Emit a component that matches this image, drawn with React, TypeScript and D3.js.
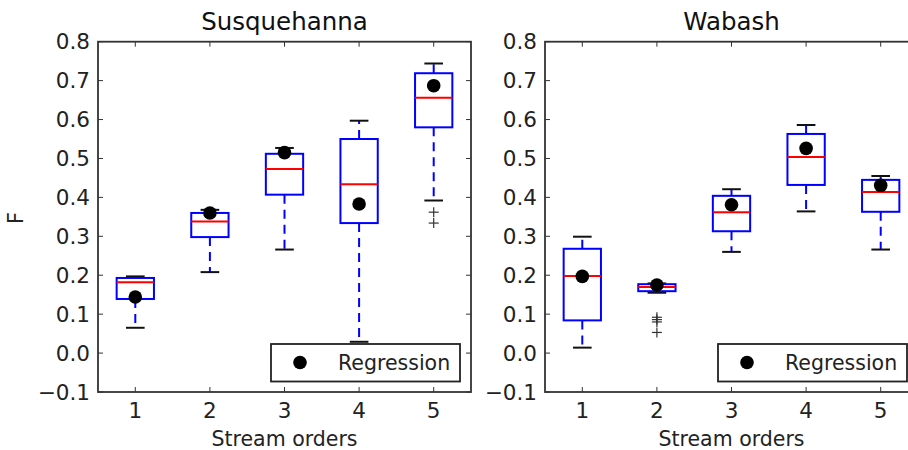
import * as d3 from "d3";

const orders = [1, 2, 3, 4, 5];
const yTicks = [-0.1, 0, 0.1, 0.2, 0.3, 0.4, 0.5, 0.6, 0.7, 0.8];

// Susquehanna
const susLow = [0.065, 0.208, 0.266, 0.029, 0.392];
const susQ1 = [0.139, 0.298, 0.407, 0.334, 0.58];
const susMed = [0.182, 0.338, 0.473, 0.434, 0.656];
const susQ3 = [0.193, 0.36, 0.512, 0.55, 0.719];
const susHigh = [0.197, 0.368, 0.527, 0.597, 0.744];
const susReg = [0.144, 0.36, 0.515, 0.383, 0.687];
const susFliers = [[], [], [], [], [0.362, 0.334]];

// Wabash
const wabLow = [0.014, 0.155, 0.26, 0.364, 0.266];
const wabQ1 = [0.084, 0.159, 0.313, 0.432, 0.363];
const wabMed = [0.198, 0.17, 0.362, 0.504, 0.414];
const wabQ3 = [0.268, 0.177, 0.404, 0.563, 0.445];
const wabHigh = [0.299, 0.179, 0.421, 0.586, 0.455];
const wabReg = [0.197, 0.175, 0.381, 0.526, 0.431];
const wabFliers = [[], [0.092, 0.086, 0.08, 0.053], [], [], []];

const FONT = "DejaVu Sans, sans-serif";
const TOP = 41.7;
const BOTTOM = 392;
const PANEL_W = 373;

type PanelProps = {
	left: number;
	title: string;
	low: number[];
	q1: number[];
	med: number[];
	q3: number[];
	high: number[];
	reg: number[];
	fliers: number[][];
	showYLabel?: boolean;
};

function Panel({ left, title, low, q1, med, q3, high, reg, fliers, showYLabel }: PanelProps) {
	const right = left + PANEL_W;
	const x = d3.scaleLinear().domain([0.5, 5.5]).range([left, right]);
	const y = d3.scaleLinear().domain([-0.1, 0.8]).range([BOTTOM, TOP]);
	// matplotlib default box width 0.5, caps half of that
	const boxW = x(1.5) - x(1);
	const capW = boxW / 2;
	const fmt = (v: number) => (v < 0 ? "\u2212" : "") + Math.abs(v).toFixed(1);
	const legX = right - 200;
	const legY = 344;

	return (
		<g>
			<text x={(left + right) / 2} y={30} textAnchor="middle" fontSize={24.5} fontFamily={FONT} fill="#111">
				{title}
			</text>
			{showYLabel && (
				<text transform={`translate(23, 218) rotate(-90)`} textAnchor="middle" fontSize={21} fontFamily={FONT} fill="#222">
					F
				</text>
			)}
			{/* ticks inside on all sides */}
			{yTicks.map((t) => (
				<g key={"y" + t}>
					<line x1={left} x2={left + 5} y1={y(t)} y2={y(t)} stroke="#333" />
					<line x1={right - 5} x2={right} y1={y(t)} y2={y(t)} stroke="#333" />
					<text x={left - 8} y={y(t)} dy="0.36em" textAnchor="end" fontSize={21.5} fontFamily={FONT} fill="#222">
						{fmt(t)}
					</text>
				</g>
			))}
			{orders.map((o) => (
				<g key={"x" + o}>
					<line x1={x(o)} x2={x(o)} y1={BOTTOM} y2={BOTTOM - 5} stroke="#333" />
					<line x1={x(o)} x2={x(o)} y1={TOP} y2={TOP + 5} stroke="#333" />
					<text x={x(o)} y={418} textAnchor="middle" fontSize={21.5} fontFamily={FONT} fill="#222">
						{o}
					</text>
				</g>
			))}
			<text x={(left + right) / 2} y={446} textAnchor="middle" fontSize={20.5} fontFamily={FONT} fill="#222">
				Stream orders
			</text>

			{orders.map((o, i) => {
				const cx = x(o);
				return (
					<g key={"b" + o}>
						<line x1={cx} x2={cx} y1={y(q3[i])} y2={y(high[i])} stroke="blue" strokeWidth={2} strokeDasharray="9,6" />
						<line x1={cx} x2={cx} y1={y(q1[i])} y2={y(low[i])} stroke="blue" strokeWidth={2} strokeDasharray="9,6" />
						<line x1={cx - capW / 2} x2={cx + capW / 2} y1={y(high[i])} y2={y(high[i])} stroke="#111" strokeWidth={2} />
						<line x1={cx - capW / 2} x2={cx + capW / 2} y1={y(low[i])} y2={y(low[i])} stroke="#111" strokeWidth={2} />
						<rect
							x={cx - boxW / 2}
							y={y(q3[i])}
							width={boxW}
							height={y(q1[i]) - y(q3[i])}
							fill="none"
							stroke="blue"
							strokeWidth={2}
						/>
						<line x1={cx - boxW / 2} x2={cx + boxW / 2} y1={y(med[i])} y2={y(med[i])} stroke="red" strokeWidth={2} />
						{fliers[i].map((f, j) => (
							<g key={j} stroke="#333" strokeWidth={1.2}>
								<line x1={cx - 5} x2={cx + 5} y1={y(f)} y2={y(f)} />
								<line x1={cx} x2={cx} y1={y(f) - 5} y2={y(f) + 5} />
							</g>
						))}
						<circle cx={cx} cy={y(reg[i])} r={6.8} fill="black" />
					</g>
				);
			})}

			{/* legend */}
			<rect x={legX} y={legY} width={189} height={37.5} fill="white" stroke="#222" strokeWidth={1.8} />
			<circle cx={legX + 29} cy={legY + 18.5} r={6.8} fill="black" />
			<text x={legX + 67} y={legY + 25.5} fontSize={20.5} fontFamily={FONT} fill="#222">
				Regression
			</text>

			<rect x={left} y={TOP} width={PANEL_W} height={BOTTOM - TOP} fill="none" stroke="#333" strokeWidth={1.8} />
		</g>
	);
}

export default function App() {
	return (
		<svg width={908} height={450} style={{ position: "absolute", left: 0, top: 0, background: "white" }}>
			<Panel
				left={98}
				title="Susquehanna"
				low={susLow}
				q1={susQ1}
				med={susMed}
				q3={susQ3}
				high={susHigh}
				reg={susReg}
				fliers={susFliers}
				showYLabel
			/>
			<Panel
				left={545}
				title="Wabash"
				low={wabLow}
				q1={wabQ1}
				med={wabMed}
				q3={wabQ3}
				high={wabHigh}
				reg={wabReg}
				fliers={wabFliers}
			/>
		</svg>
	);
}
